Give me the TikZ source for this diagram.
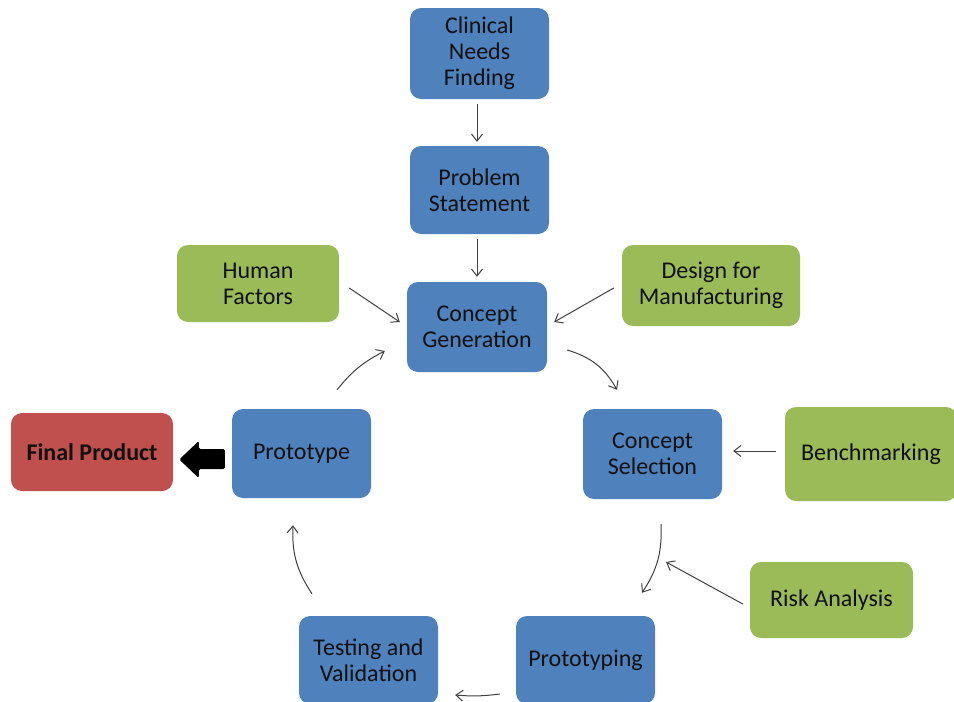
\documentclass[tikz,border=0pt]{standalone}
\usepackage{fontspec}
\setmainfont{Carlito}
\usetikzlibrary{arrows.meta,calc}
\definecolor{bluebox}{HTML}{4F81BD}
\definecolor{greenbox}{HTML}{9BBB59}
\definecolor{redbox}{HTML}{C0504D}
\definecolor{linec}{HTML}{3F3F3F}
\definecolor{txt}{HTML}{111111}
\tikzset{
  box/.style={rounded corners=11pt, align=center, text=txt, inner sep=0pt,
    font=\fontsize{24}{26}\selectfont, draw=none},
  bbox/.style={box, fill=bluebox},
  gbox/.style={box, fill=greenbox},
  rbox/.style={box, fill=redbox},
  conn/.style={draw=linec, line width=1pt, -{Straight Barb[length=7pt,width=11pt]}},
}
\begin{document}
\begin{tikzpicture}[x=1pt,y=-1pt]
\useasboundingbox (0,0) rectangle (954,702);
\clip (0,0) rectangle (954,702);
\node[bbox, minimum width=139pt, minimum height=91pt] (clin) at (479.5,53.5) {Clinical\\Needs\\Finding};
\node[bbox, minimum width=139pt, minimum height=88pt] (prob) at (479.5,190) {Problem\\Statement};
\node[bbox, minimum width=140pt, minimum height=90pt] (cg) at (477,327) {Concept\\Generation};
\node[gbox, minimum width=162pt, minimum height=77pt] (hf) at (258,283.5) {Human\\Factors};
\node[gbox, minimum width=178pt, minimum height=81pt] (dfm) at (711,285.5) {Design for\\Manufacturing};
\node[bbox, minimum width=139pt, minimum height=90pt] (cs) at (652.5,454) {Concept\\Selection};
\node[gbox, minimum width=172pt, minimum height=94pt] (bench) at (871,454) {Benchmarking};
\node[bbox, minimum width=139pt, minimum height=89pt] (proto) at (301.5,453.5) {Prototype};
\node[rbox, minimum width=162pt, minimum height=78pt, font=\fontsize{24}{26}\selectfont\bfseries] (final) at (92,452) {Final Product};
\node[gbox, minimum width=163pt, minimum height=76pt] (risk) at (831.5,600) {Risk Analysis};
\node[bbox, minimum width=139pt, minimum height=88pt] (ptyping) at (585.5,660) {Prototyping};
\node[bbox, minimum width=139pt, minimum height=88pt] (test) at (368.5,660) {Testing and\\Validation};

\draw[conn, shorten <=5pt, shorten >=4pt] ([xshift=-2.5pt]clin.south) -- ([xshift=-2.5pt]prob.north);
\draw[conn, shorten <=5pt, shorten >=5pt] ([xshift=-2.5pt]prob.south) -- (cg.north);
\draw[conn] ([shift={(10,4.5)}]hf.east) -- ([shift={(-7,-5)}]cg.west);
\draw[conn] ([shift={(-8,2.5)}]dfm.west) -- ([shift={(7,-5)}]cg.east);
\draw[conn] ([shift={(20,23)}]cg.east) to[bend left=22] ([shift={(-35.5,-19)}]cs.north);
\draw[conn] ([shift={(-9,-3)}]bench.west) -- ([shift={(11,-3)}]cs.east);
\draw[conn] ([shift={(8.5,25)}]cs.south) to[bend left=18] ([shift={(56.5,-23)}]ptyping.north);
\coordinate (riskend) at (666,562);
\draw[conn] ([shift={(-7,4)}]risk.west) -- (riskend);
\draw[conn] ([shift={(-16,34)}]ptyping.west) to[bend left=6] ([shift={(17,35)}]test.east);
\draw[conn] ([shift={(-56.5,-22)}]test.north) to[bend left=18] ([shift={(-8.5,27)}]proto.south);
\draw[conn] ([shift={(35.5,-19)}]proto.north) to[bend left=12] ([shift={(-22,24)}]cg.west);

\fill[black, rounded corners=1.5pt]
  ($(proto.west)+(-7,-4.5)$) -- ($(proto.west)+(-33,-4.5)$) -- ($(proto.west)+(-33,-12.5)$)
  -- ($(final.east)+(6,7.5)$) -- ($(proto.west)+(-33,24.5)$) -- ($(proto.west)+(-33,15.5)$)
  -- ($(proto.west)+(-7,15.5)$) -- cycle;
\end{tikzpicture}
\end{document}
